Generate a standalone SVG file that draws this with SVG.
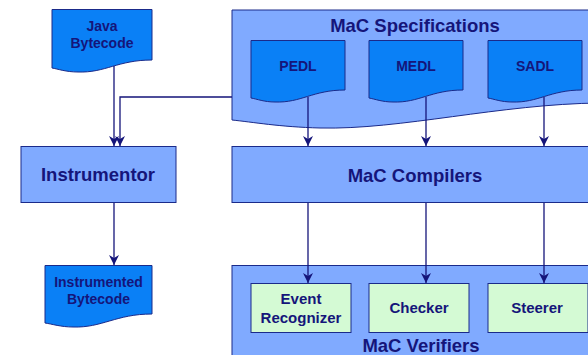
<svg xmlns="http://www.w3.org/2000/svg" width="588" height="355" viewBox="0 0 588 355">
  <style>
    .panel { fill: #80aaff; stroke: #1a2a8a; stroke-width: 1; }
    .doc { fill: #0a80f6; stroke: #1a2a8a; stroke-width: 1; }
    .unit { fill: #d4fad4; stroke: #1a2a8a; stroke-width: 1; }
    .lbl { font-family: "Liberation Sans", Arial, sans-serif; font-weight: bold; fill: #15157a; text-anchor: middle; }
    .big { font-size: 18.5px; }
    .mid { font-size: 14px; }
    .sm { font-size: 15px; }
    .wire { fill: none; stroke: #15157a; stroke-width: 1.3; marker-end: url(#head); }
  </style>
  <defs>
    <marker id="head" markerUnits="userSpaceOnUse" markerWidth="10" markerHeight="10" refX="10" refY="5" orient="auto">
      <path d="M10,5 L0,0 L3,5 L0,10 Z" fill="#15157a"/>
    </marker>
  </defs>
  <rect width="588" height="355" fill="#ffffff"/>

  <!-- containers -->
  <g id="specifications">
    <path class="panel" d="M232,10 H600 V103 C500,104 400,130 320,128 C280,127 252,122 232,120 Z"/>
    <text class="lbl big" x="415" y="32">MaC Specifications</text>
  </g>
  <g id="compilers">
    <rect class="panel" x="232" y="146.5" width="370" height="56"/>
    <text class="lbl big" x="415" y="182">MaC Compilers</text>
  </g>
  <g id="verifiers">
    <rect class="panel" x="232" y="265.5" width="370" height="100"/>
    <text class="lbl big" x="421" y="352">MaC Verifiers</text>
  </g>

  <!-- documents -->
  <g id="java-bytecode">
    <path class="doc" d="M52,9.5 H152 V60 C118,60 105,73 78,72 C66,72 58,69 52,68 Z"/>
    <text class="lbl mid" x="102" y="31">Java</text>
    <text class="lbl mid" x="102" y="48">Bytecode</text>
  </g>
  <g id="pedl">
    <path class="doc" d="M251,40.5 H345 V90 C313,90 301,103 275,102 C264,102 257,99 251,98 Z"/>
    <text class="lbl mid" x="298" y="71">PEDL</text>
  </g>
  <g id="medl">
    <path class="doc" d="M369,40.5 H463 V90 C431,90 419,103 393,102 C382,102 375,99 369,98 Z"/>
    <text class="lbl mid" x="416" y="71">MEDL</text>
  </g>
  <g id="sadl">
    <path class="doc" d="M488,40.5 H582 V90 C550,90 538,103 512,102 C501,102 494,99 488,98 Z"/>
    <text class="lbl mid" x="535" y="71">SADL</text>
  </g>
  <g id="instrumented-bytecode">
    <path class="doc" d="M45,265.5 H152 V314 C116,314 102,328 73,327 C61,327 52,324 45,323 Z"/>
    <text class="lbl mid" x="98.5" y="287">Instrumented</text>
    <text class="lbl mid" x="98.5" y="304">Bytecode</text>
  </g>

  <!-- tools -->
  <g id="instrumentor">
    <rect class="panel" x="21" y="146.5" width="155" height="56"/>
    <text class="lbl big" x="98" y="181">Instrumentor</text>
  </g>
  <g id="event-recognizer">
    <rect class="unit" x="251" y="283.5" width="100" height="49"/>
    <text class="lbl sm" x="301" y="304">Event</text>
    <text class="lbl sm" x="301" y="323">Recognizer</text>
  </g>
  <g id="checker">
    <rect class="unit" x="369" y="283.5" width="100" height="49"/>
    <text class="lbl sm" x="419" y="313">Checker</text>
  </g>
  <g id="steerer">
    <rect class="unit" x="488" y="283.5" width="100" height="49"/>
    <text class="lbl sm" x="537" y="313">Steerer</text>
  </g>

  <!-- connectors -->
  <g id="connectors">
    <path class="wire" d="M114,66 V146"/>
    <path class="wire" d="M232,97 H120 V146"/>
    <path class="wire" d="M308,97 V146"/>
    <path class="wire" d="M426,97 V146"/>
    <path class="wire" d="M544,97 V146"/>
    <path class="wire" d="M114,203 V265"/>
    <path class="wire" d="M308,203 V283"/>
    <path class="wire" d="M426,203 V283"/>
    <path class="wire" d="M544,203 V283"/>
  </g>
</svg>
